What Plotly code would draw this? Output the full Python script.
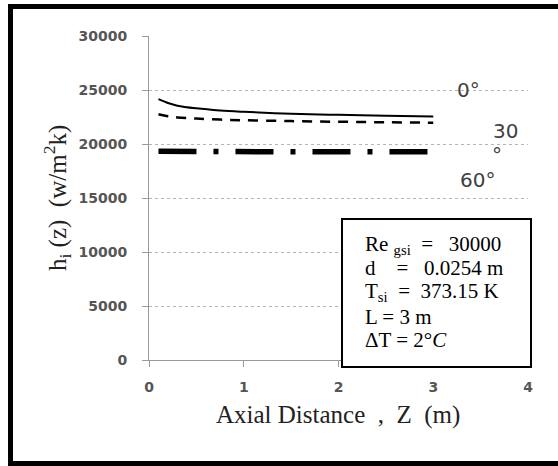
import plotly.graph_objects as go

# Axial positions (m) and local heat transfer coefficient h_i(z) (W/m^2K)
z = [0.1, 0.2, 0.3, 0.5, 0.75, 1.0, 1.5, 2.0, 2.5, 3.0]
h_0deg = [24150, 23800, 23550, 23300, 23100, 22980, 22800, 22700, 22620, 22550]
h_30deg = [22750, 22560, 22460, 22350, 22260, 22200, 22120, 22060, 22010, 21970]
h_60deg = [19320, 19310, 19300, 19300, 19290, 19290, 19280, 19280, 19270, 19270]

y_ticks = [0, 5000, 10000, 15000, 20000, 25000, 30000]
y_tick_text = ["0", "5000", "10000", "15000", "20000", "25000", "30000"]
x_ticks = [0, 1, 2, 3, 4]

fig = go.Figure()
fig.add_trace(go.Scatter(x=z, y=h_0deg, mode="lines",
                         line=dict(color="black", width=2, shape="spline")))
fig.add_trace(go.Scatter(x=z, y=h_30deg, mode="lines",
                         line=dict(color="black", width=2.5, dash="10px,8px", shape="spline")))
fig.add_trace(go.Scatter(x=z, y=h_60deg, mode="lines",
                         line=dict(color="black", width=5.5, dash="38px,17px,5px,17px")))

serif = "Liberation Serif, Times New Roman, serif"
sans = "DejaVu Sans, sans-serif"
tick_font = dict(family=sans, size=14, color="#555555", weight="bold")

W, H = 558, 466
L, R, T, B = 149, 30, 36, 106
fig.update_layout(
    width=W, height=H,
    margin=dict(l=L, r=R, t=T, b=B),
    paper_bgcolor="white", plot_bgcolor="white",
    showlegend=False,
    xaxis=dict(range=[0, 4], tickvals=x_ticks, showgrid=False, zeroline=False,
               showline=True, linecolor="#9a9a9a", linewidth=1,
               ticks="outside", ticklen=6, tickcolor="#9a9a9a",
               ticklabelstandoff=8, tickfont=tick_font),
    yaxis=dict(range=[0, 30000], tickvals=y_ticks, ticktext=y_tick_text, showgrid=True,
               gridcolor="#b5b5b5", griddash="dot", gridwidth=1, zeroline=False,
               showline=True, linecolor="#9a9a9a", linewidth=1,
               ticks="outside", ticklen=6, tickcolor="#9a9a9a",
               ticklabelstandoff=12, tickfont=tick_font),
)

pw, ph = W - L - R, H - T - B


def px(xp):
    return (xp - L) / pw


def py(yp):
    return (H - B - yp) / ph


# outer frame: left, top and bottom edges
shapes = [
    dict(type="line", xref="paper", yref="paper", x0=px(10.5), x1=px(10.5), y0=py(463.5), y1=py(6.5),
         line=dict(color="black", width=5), layer="above"),
    dict(type="line", xref="paper", yref="paper", x0=px(8), x1=px(558), y0=py(6.5), y1=py(6.5),
         line=dict(color="black", width=5), layer="above"),
    dict(type="line", xref="paper", yref="paper", x0=px(8), x1=px(558), y0=py(463.5), y1=py(463.5),
         line=dict(color="black", width=5), layer="above"),
    # parameter box
    dict(type="rect", xref="paper", yref="paper", x0=px(342), x1=px(531), y0=py(367), y1=py(219),
         line=dict(color="black", width=2), fillcolor="white", layer="above"),
]
fig.update_layout(shapes=shapes)

NB = "\u00a0"
ann = []
# y-axis title
ann.append(dict(xref="paper", yref="paper", x=px(57), y=py(198),
                xanchor="center", yanchor="middle", showarrow=False, textangle=-90,
                text=f"h<sub>i</sub>{NB}(z){NB}{NB}(w/m<sup>2</sup>k)",
                font=dict(family=serif, size=25, color="#222")))
# x-axis title
ann.append(dict(xref="paper", yref="paper", x=px(338), y=py(415),
                xanchor="center", yanchor="middle", showarrow=False,
                text=f"Axial Distance{NB}{NB},{NB}{NB}Z{NB}{NB}(m)",
                font=dict(family=serif, size=25, color="#222")))
# curve labels
for txt, xx, yy in [("0°", 468, 90), ("30", 505, 131), ("°", 497, 155), ("60°", 477, 180)]:
    ann.append(dict(xref="paper", yref="paper", x=px(xx), y=py(yy), xanchor="center", yanchor="middle",
                    showarrow=False, text=txt,
                    font=dict(family=sans, size=20, color="#404040")))
# parameter box text
box_lines = [
    (f"Re <sub>gsi</sub>{NB}{NB}={NB}{NB}{NB}30000", 245),
    (f"d{NB}{NB}{NB}{NB}={NB}{NB}{NB}0.0254 m", 268),
    (f"T<sub>si</sub>{NB}{NB}={NB}{NB}373.15 K", 292),
    ("L = 3 m", 317),
    ("ΔT = 2°<i>C</i>", 340),
]
for txt, yy in box_lines:
    ann.append(dict(xref="paper", yref="paper", x=px(363), y=py(yy),
                    xanchor="left", yanchor="middle", showarrow=False, text=txt,
                    font=dict(family=serif, size=21, color="black")))
fig.update_layout(annotations=ann)

fig.write_html("out.html")
